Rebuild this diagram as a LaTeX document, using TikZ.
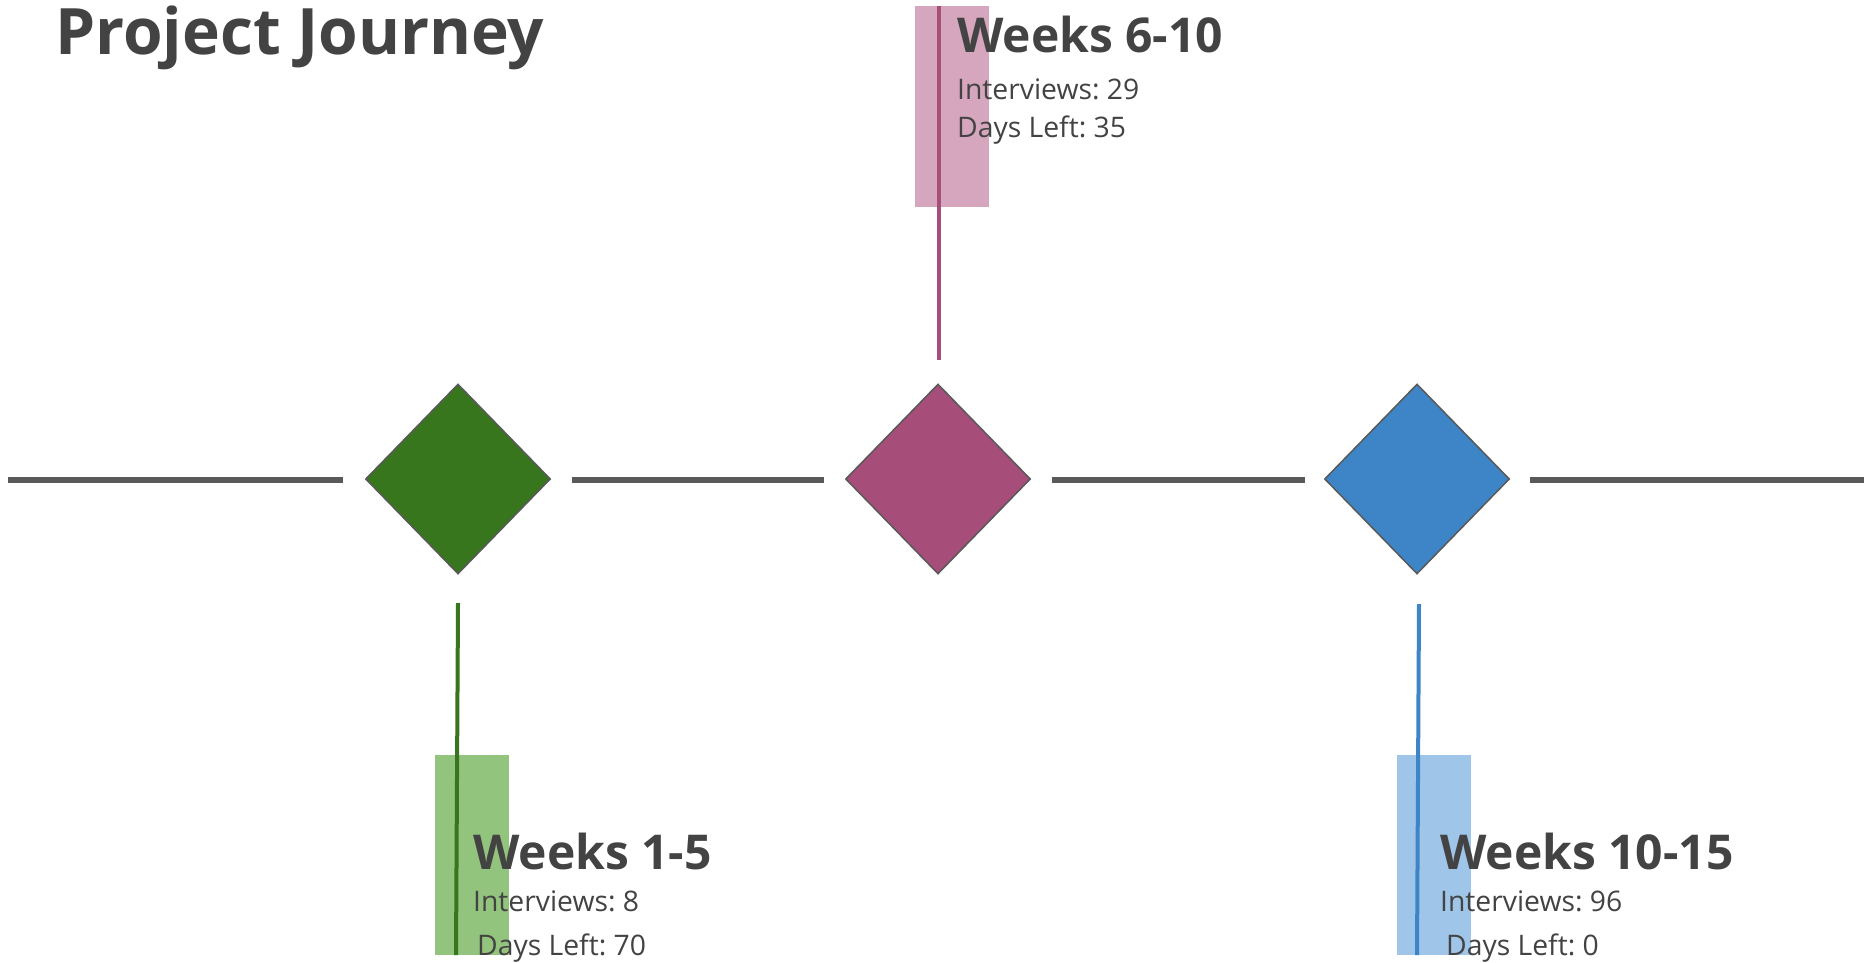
\documentclass[tikz,border=0pt]{standalone}
\usepackage{fontspec}
\setmainfont{Open Sans}
\usetikzlibrary{shapes.geometric}
\definecolor{ink}{HTML}{434343}
\definecolor{rail}{HTML}{595959}
\definecolor{gdark}{HTML}{38761D}
\definecolor{glight}{HTML}{93C47D}
\definecolor{mdark}{HTML}{A64D79}
\definecolor{mlight}{HTML}{D5A6BD}
\definecolor{bdark}{HTML}{3D85C6}
\definecolor{blight}{HTML}{9FC5E8}
\frenchspacing
\tikzset{
  railseg/.style={draw=rail, line width=6pt},
  milestone/.style={diamond, draw=rail, line width=1.5pt, minimum width=185pt, minimum height=190pt, inner sep=0pt, aspect=1},
  stem/.style={line width=4pt},
  band/.style={inner sep=0pt, minimum width=74pt, minimum height=200pt},
  heading/.style={anchor=base west, inner sep=0pt, text=ink, font=\fontsize{48}{56}\selectfont\bfseries},
  detail/.style={anchor=base west, inner sep=0pt, text=ink, font=\fontsize{28.3}{34}\selectfont},
}
\begin{document}
\begin{tikzpicture}[x=1pt, y=-1pt]
\useasboundingbox[fill=white] (0,0) rectangle (1864,962);

% title
\node[anchor=base west, inner sep=0pt, text=ink, font=\fontsize{64}{72}\selectfont\bfseries] (title) at (55,54) {Project Journey};

% milestones on the rail
\node[milestone, fill=gdark] (m1) at (458,479) {};
\node[milestone, fill=mdark] (m2) at (938,479) {};
\node[milestone, fill=bdark] (m3) at (1417,479) {};

% rail segments between the milestones
\coordinate (r0) at (8,480);
\coordinate (r1a) at (343,480);
\coordinate (r1b) at (572,480);
\coordinate (r2a) at (824,480);
\coordinate (r2b) at (1052,480);
\coordinate (r3a) at (1305,480);
\coordinate (r3b) at (1530,480);
\coordinate (r4) at (1864,480);
\draw[railseg] (r0) -- (r1a);
\draw[railseg] (r1b) -- (r2a);
\draw[railseg] (r2b) -- (r3a);
\draw[railseg] (r3b) -- (r4);

% translucent bands behind the labels
\node[band, fill=glight, anchor=north west] (b1) at (435,755) {};
\node[band, fill=mlight, anchor=north west, minimum height=201pt] (b2) at (915,6) {};
\node[band, fill=blight, anchor=north west] (b3) at (1397,755) {};

% stems
\coordinate (s1t) at (458,603);
\coordinate (s1b) at (456,955);
\coordinate (s2t) at (939,6);
\coordinate (s2b) at (939,360);
\coordinate (s3t) at (1419,604);
\coordinate (s3b) at (1417,955);
\draw[stem, draw=gdark] (s1t) -- (s1b);
\draw[stem, draw=mdark] (s2t) -- (s2b);
\draw[stem, draw=bdark] (s3t) -- (s3b);

% labels
\node[heading] (h1) at (473,869) {Weeks 1-5};
\node[detail] (i1) at (473,911) {Interviews: 8};
\node[detail] (d1) at (477,955) {Days Left: 70};

\node[heading] (h2) at (957,52) {Weeks 6-10};
\node[detail] (i2) at (957,99) {Interviews: 29};
\node[detail] (d2) at (957,137) {Days Left: 35};

\node[heading] (h3) at (1440,869) {Weeks 10-15};
\node[detail] (i3) at (1440,911) {Interviews: 96};
\node[detail] (d3) at (1446,955) {Days Left: 0};
\end{tikzpicture}
\end{document}
